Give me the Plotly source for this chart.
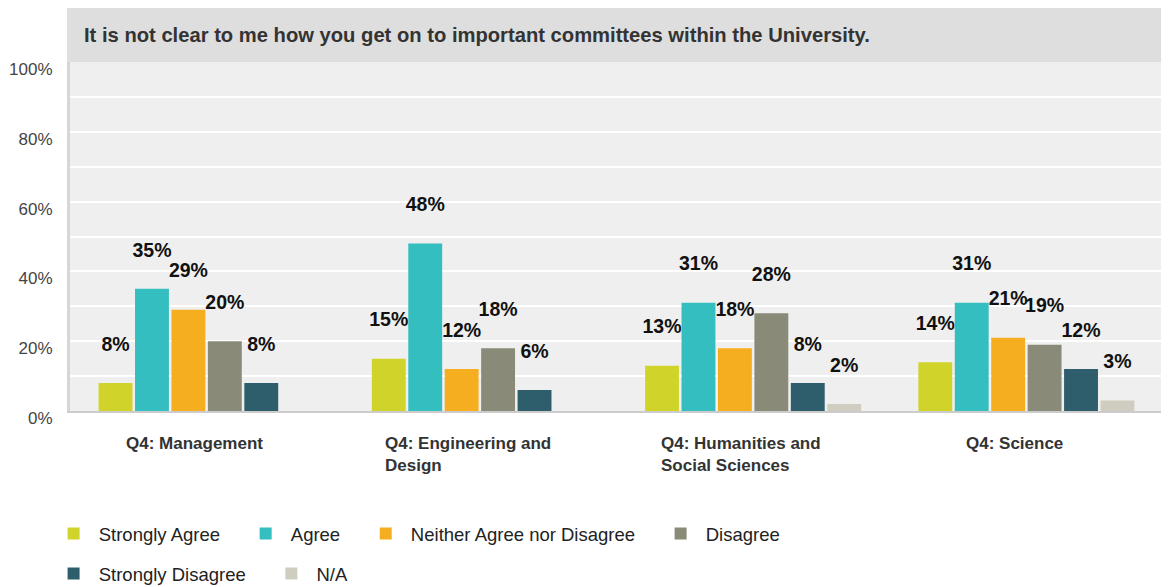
import plotly.graph_objects as go

categories = ["Q4: Management", "Q4: Engineering and<br>Design",
              "Q4: Humanities and<br>Social Sciences", "Q4: Science"]
series_names = ["Strongly Agree", "Agree", "Neither Agree nor Disagree",
                "Disagree", "Strongly Disagree", "N/A"]
strongly_agree = [8, 15, 13, 14]
agree = [35, 48, 31, 31]
neither = [29, 12, 18, 21]
disagree = [20, 18, 28, 19]
strongly_disagree = [8, 6, 8, 12]
na = [0, 0, 2, 3]
y_tick_vals = [0, 20, 40, 60, 80, 100]
y_tick_text = ["0%", "20%", "40%", "60%", "80%", "100%"]
title_text = "It is not clear to me how you get on to important committees within the University."

series_values = [strongly_agree, agree, neither, disagree, strongly_disagree, na]
colors = ["#d0d42a", "#34bec0", "#f6ae21", "#8a8a78", "#2e5e6c", "#cfcdbf"]
FONT = "Liberation Sans, Arial, sans-serif"

fig = go.Figure()
xs = list(range(len(categories)))
for i, (name, vals, col) in enumerate(zip(series_names, series_values, colors)):
    fig.add_trace(go.Bar(
        x=xs, y=vals, name="\u00a0" + name + "\u00a0" * 4,
        marker=dict(color=col, line=dict(width=0)),
        text=[f"{v}%<br> " if v else "" for v in vals],
        textposition="outside",
        constraintext="none",
        cliponaxis=False,
        outsidetextfont=dict(family=FONT, size=19.5, color="#111111", weight="bold"),
        legend="legend" if i < 4 else "legend2",
        hoverinfo="skip",
    ))

legend_common = dict(orientation="h", xref="container", yref="container",
                     xanchor="left", yanchor="middle",
                     font=dict(family=FONT, size=18.5, color="#222222"),
                     bgcolor="rgba(0,0,0,0)", traceorder="normal")

fig.update_layout(
    width=1169, height=587,
    margin=dict(l=62, r=14, t=54, b=184),
    paper_bgcolor="white",
    plot_bgcolor="#efefef",
    barmode="group",
    bargap=0.2,
    bargroupgap=0.07,
    font=dict(family=FONT, color="#333333"),
    showlegend=True,
    legend=dict(x=0.039, y=0.104, **legend_common),
    legend2=dict(x=0.039, y=0.036, **legend_common),
)

fig.update_xaxes(
    range=[-0.5, len(categories) - 0.5], automargin=False,
    showticklabels=False, showgrid=False, zeroline=False,
    showline=True, linecolor="#cccccc", linewidth=2,
)
fig.update_yaxes(
    range=[0, 100], tickvals=y_tick_vals, ticktext=y_tick_text, automargin=False,
    showgrid=True, gridcolor="white", gridwidth=2,
    minor=dict(dtick=10, showgrid=True, gridcolor="white", gridwidth=2),
    zeroline=False, showline=True, linecolor="#d6d6d6", linewidth=3,
    tickfont=dict(family=FONT, size=17, color="#444444"),
    ticklabelshift=7, ticklabelstandoff=11,
)

# Title bar
fig.add_shape(type="rect", xref="paper", yref="paper",
              x0=-0.0027, x1=1, y0=1, y1=1.1547,
              fillcolor="#dedede", line=dict(width=0), layer="below")
fig.add_annotation(text=title_text, xref="paper", yref="paper", x=0, y=1,
                   xshift=12, yshift=27, xanchor="left", yanchor="middle",
                   showarrow=False,
                   font=dict(family=FONT, size=20.2, color="#333333", weight="bold"))

# Category labels (left-aligned, wrapped)
for xi, cat in zip(xs, categories):
    fig.add_annotation(text=cat, x=xi, xref="x", y=0, yref="paper",
                       xanchor="center", yanchor="top", xshift=-12, yshift=-21,
                       align="left", showarrow=False,
                       font=dict(family=FONT, size=17, color="#333333", weight="bold"))

fig.write_html("out.html")
